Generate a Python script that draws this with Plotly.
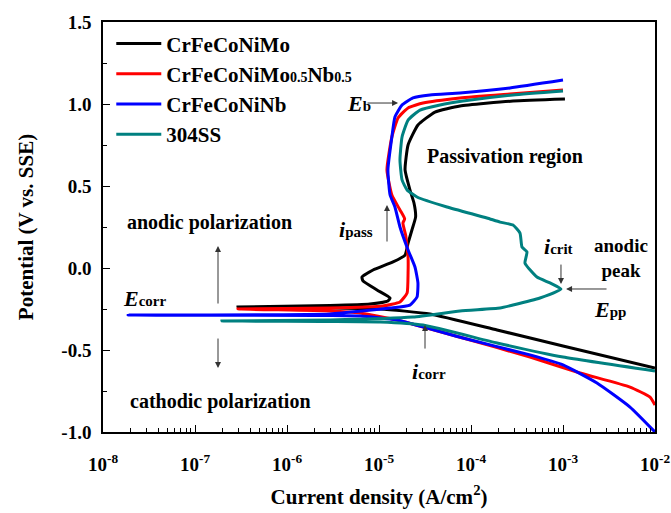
import plotly.graph_objects as go

# ---- data ----
series_names = ["CrFeCoNiMo", "CrFeCoNiMo0.5Nb0.5", "CrFeCoNiNb", "304SS"]
series_colors = ["#000000", "#ff0000", "#0000ff", "#008080"]

mo_i = [1.0e-2, 1.0e-3, 1.92e-4, 3.58e-5, 1.03e-5, 2.93e-6, 2.93e-7, 2.93e-6, 7.98e-6,
        1.25e-5, 1.32e-5, 9.51e-6, 6.70e-6, 6.53e-6, 8.61e-6, 1.42e-5, 1.92e-5, 2.07e-5,
        2.28e-5, 2.50e-5, 2.40e-5, 2.17e-5, 1.92e-5, 2.07e-5, 2.65e-5, 4.06e-5, 7.59e-5,
        2.86e-4, 1.05e-3]
mo_E = [-0.610, -0.476, -0.378, -0.280, -0.250, -0.244, -0.238, -0.229, -0.220,
        -0.201, -0.183, -0.134, -0.079, -0.055, -0.012, 0.037, 0.079, 0.152,
        0.232, 0.311, 0.396, 0.476, 0.598, 0.750, 0.872, 0.951, 0.988,
        1.018, 1.030]

monb_i = [1.0e-2, 8.83e-3, 5.35e-3, 1.53e-3, 4.38e-4, 8.18e-5, 1.57e-5, 6.21e-6, 2.93e-6,
          2.93e-7, 2.93e-6, 1.10e-5, 1.69e-5, 2.02e-5, 2.07e-5, 2.07e-5, 2.02e-5, 1.95e-5,
          1.82e-5, 1.90e-5, 1.69e-5, 1.38e-5, 1.22e-5, 1.38e-5, 1.61e-5, 2.07e-5, 3.01e-5,
          7.59e-5, 2.65e-4, 1.0e-3]
monb_E = [-0.835, -0.787, -0.726, -0.640, -0.543, -0.427, -0.317, -0.274, -0.262,
          -0.250, -0.244, -0.232, -0.207, -0.152, -0.030, 0.067, 0.128, 0.200,
          0.274, 0.300, 0.354, 0.445, 0.598, 0.799, 0.915, 0.976, 1.006,
          1.037, 1.061, 1.085]

nb_i = [1.0e-2, 5.35e-3, 2.34e-3, 1.0e-3, 4.38e-4, 8.18e-5, 1.57e-5, 6.21e-6, 2.93e-6,
        1.87e-8, 2.93e-6, 1.32e-5, 2.17e-5, 2.59e-5, 2.65e-5, 2.46e-5, 2.07e-5, 1.69e-5,
        1.49e-5, 1.32e-5, 1.25e-5, 1.38e-5, 1.49e-5, 1.78e-5, 2.34e-5, 3.58e-5, 7.59e-5,
        2.65e-4, 1.0e-3]
nb_E = [-1.000, -0.848, -0.701, -0.591, -0.530, -0.427, -0.317, -0.293, -0.290,
        -0.287, -0.280, -0.244, -0.226, -0.177, -0.091, 0.006, 0.110, 0.250,
        0.372, 0.445, 0.598, 0.799, 0.921, 0.994, 1.037, 1.055, 1.067,
        1.098, 1.146]

ss_i = [1.0e-2, 1.0e-3, 1.92e-4, 3.01e-5, 1.03e-5, 2.93e-6, 1.96e-7, 2.93e-6, 2.34e-5,
        7.59e-5, 2.07e-4, 2.86e-4, 5.62e-4, 9.51e-4, 7.22e-4, 5.21e-4, 3.86e-4, 4.06e-4,
        3.58e-4, 3.41e-4, 2.86e-4, 2.07e-4, 1.49e-4, 5.48e-5, 2.59e-5, 2.02e-5, 1.78e-5,
        1.69e-5, 1.78e-5, 2.07e-5, 2.79e-5, 4.60e-5, 8.18e-5, 2.86e-4, 1.0e-3]
ss_E = [-0.628, -0.543, -0.457, -0.348, -0.329, -0.326, -0.323, -0.317, -0.299,
        -0.262, -0.244, -0.226, -0.183, -0.128, -0.091, -0.055, 0.030, 0.098,
        0.128, 0.213, 0.262, 0.280, 0.305, 0.372, 0.433, 0.476, 0.537,
        0.659, 0.799, 0.902, 0.963, 0.994, 1.018, 1.055, 1.079]

x_tick_vals = [1e-8, 1e-7, 1e-6, 1e-5, 1e-4, 1e-3, 1e-2]
x_tick_text = ["10<sup>-8</sup>", "10<sup>-7</sup>", "10<sup>-6</sup>", "10<sup>-5</sup>",
               "10<sup>-4</sup>", "10<sup>-3</sup>", "10<sup>-2</sup>"]
y_tick_vals = [-1.0, -0.5, 0.0, 0.5, 1.0, 1.5]
y_tick_text = ["-1.0", "-0.5", "0.0", "0.5", "1.0", "1.5"]

FONT = "Liberation Serif, Times New Roman, serif"

legend_labels = [
    "CrFeCoNiMo",
    "CrFeCoNiMo<span style='font-size:14px'>0.5</span>Nb<span style='font-size:14px'>0.5</span>",
    "CrFeCoNiNb",
    "304SS",
]

fig = go.Figure()
for xs, ys, lab, col in [(mo_i, mo_E, legend_labels[0], series_colors[0]),
                         (monb_i, monb_E, legend_labels[1], series_colors[1]),
                         (nb_i, nb_E, legend_labels[2], series_colors[2]),
                         (ss_i, ss_E, legend_labels[3], series_colors[3])]:
    fig.add_trace(go.Scatter(x=xs, y=ys, mode="lines", name=lab,
                             line=dict(color=col, width=3, shape="spline", smoothing=0.45)))

sub = "<span style='font-size:15px'>{}</span>"

def ann(text, x, y, size=20, xanchor="left"):
    fig.add_annotation(x=x, y=y, xref="x", yref="y", text=text, showarrow=False,
                       xanchor=xanchor, yanchor="middle",
                       font=dict(family=FONT, size=size, color="black", weight="bold"))

def arrow(x, y, ax, ay):
    fig.add_annotation(x=x, y=y, xref="x", yref="y", ax=ax, ay=ay, text="",
                       showarrow=True, arrowhead=2, arrowsize=1.2, arrowwidth=1,
                       arrowcolor="#333333", standoff=0)

ann("<i>E</i>" + sub.format("b"), -5.37, 1.006, size=22)
arrow(-4.793, 1.006, -32, 0)
ann("Passivation region", -4.50, 0.677)
ann("anodic polarization", -7.76, 0.280)
arrow(-6.75, 0.134, 0, 59)
arrow(-6.75, -0.610, 0, -31)
ann("cathodic polarization", -7.73, -0.817)
ann("<i>E</i>" + sub.format("corr"), -7.80, -0.183, size=22)
ann("<i>i</i>" + sub.format("pass"), -5.46, 0.232, size=22)
arrow(-4.913, 0.384, 0, 38)
ann("<i>i</i>" + sub.format("crit"), -3.23, 0.134, size=22)
arrow(-3.022, -0.098, 0, -21)
ann("anodic<br>peak", -2.68, 0.06, size=19)
arrow(-2.967, -0.128, 42, 0)
ann("<i>E</i>" + sub.format("pp"), -2.69, -0.256, size=22)
ann("<i>i</i>" + sub.format("corr"), -4.66, -0.634, size=22)
arrow(-4.50, -0.348, 0, 25)

axis_common = dict(showline=True, linecolor="black", linewidth=1.5, mirror=True,
                   ticks="inside", ticklen=7, tickwidth=1.2, tickcolor="black",
                   showgrid=False, zeroline=False, automargin=False,
                   tickfont=dict(family=FONT, size=19, color="black", weight="bold"))

fig.update_xaxes(type="log", range=[-8, -2], tickvals=x_tick_vals, ticktext=x_tick_text,
                 ticklabelstandoff=14,
                 minor=dict(ticks="inside", ticklen=4, tickcolor="black", dtick="D1", showgrid=False),
                 title=dict(text="Current density (A/cm<sup>2</sup>)", standoff=16,
                            font=dict(family=FONT, size=21, color="black", weight="bold")),
                 **axis_common)
fig.update_yaxes(range=[-1.0, 1.5], tickvals=y_tick_vals, ticktext=y_tick_text,
                 ticklabelstandoff=6,
                 minor=dict(ticks="inside", ticklen=4, tickcolor="black", dtick=0.25, showgrid=False),
                 title=dict(text="Potential (V vs. SSE)", standoff=22,
                            font=dict(family=FONT, size=21, color="black", weight="bold")),
                 **axis_common)

fig.update_layout(
    width=671, height=513,
    margin=dict(l=103, r=16, t=22, b=81),
    paper_bgcolor="white", plot_bgcolor="white",
    showlegend=True,
    legend=dict(x=0.015, y=0.997, xanchor="left", yanchor="top",
                bgcolor="rgba(0,0,0,0)", itemwidth=45, tracegroupgap=0,
                font=dict(family=FONT, size=21, color="black", weight="bold")),
)

fig.write_html("out.html")
